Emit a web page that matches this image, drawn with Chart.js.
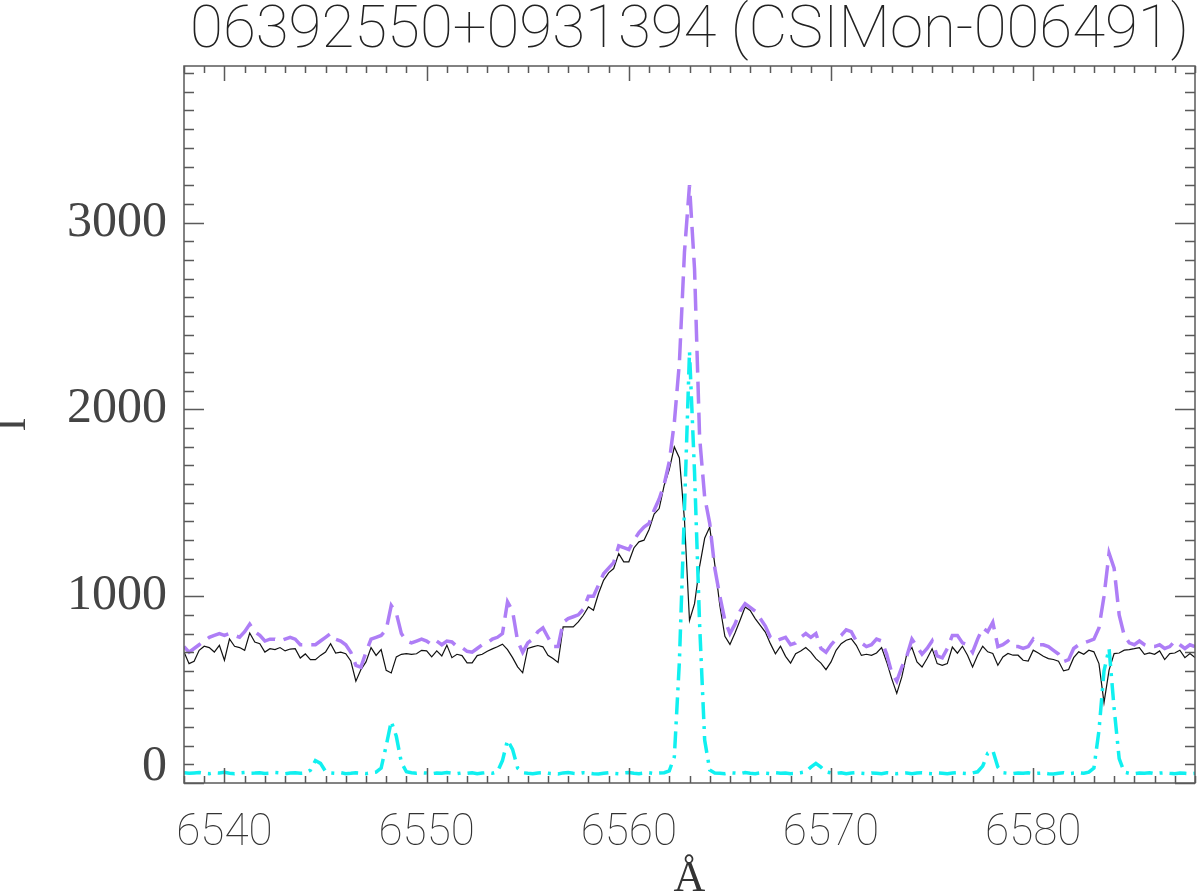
<!DOCTYPE html>
<html>
<head>
<meta charset="utf-8">
<title>06392550+0931394 (CSIMon-006491)</title>
<script src="https://cdn.jsdelivr.net/npm/chart.js@4.4.1/dist/chart.umd.min.js"></script>
<style>
  html, body { margin: 0; padding: 0; background: #fff; }
  #wrap { width: 1200px; height: 895px; }
</style>
</head>
<body>
<div id="wrap"><canvas id="spec" width="1200" height="895"></canvas></div>
<script>
// wavelength grid (Angstrom), 0.25 A sampling from 6538 to 6588
const lambdaStart = 6538;
const lambdaStep = 0.25;

// observed spectrum (black solid)
const flux = [
  701, 639, 652, 710, 732, 725, 701, 737, 657, 771, 732, 725, 710, 803, 755, 746, 701, 719, 714, 725,
  707, 717, 719, 669, 691, 660, 660, 683, 701, 746, 696, 700, 692, 653, 545, 607, 648, 725, 683, 714,
  603, 589, 675, 689, 692, 689, 692, 710, 707, 675, 707, 680, 738, 671, 689, 682, 643, 643, 682, 689,
  705, 718, 729, 743, 714, 671, 622, 590, 720, 729, 736, 729, 684, 666, 645, 836, 836, 836, 862, 898,
  943, 925, 1014, 1085, 1125, 1148, 1228, 1184, 1184, 1258, 1291, 1300, 1357, 1439, 1469, 1594, 1678, 1799, 1740, 1410,
  870, 960, 1160, 1310, 1370, 1170, 950, 785, 742, 803, 871, 942, 924, 880, 844, 808, 746, 692, 732, 678,
  642, 692, 707, 725, 701, 666, 642, 607, 648, 710, 746, 764, 773, 737, 683, 689, 683, 696, 725, 648,
  559, 480, 568, 692, 725, 648, 621, 666, 719, 639, 630, 639, 728, 695, 732, 684, 621, 684, 732, 702,
  693, 630, 675, 693, 684, 684, 657, 653, 711, 696, 678, 666, 661, 652, 600, 607, 671, 702, 689, 711,
  702, 639, 430, 604, 693, 696, 711, 714, 719, 725, 689, 696, 689, 707, 661, 693, 696, 711, 671, 693,
  671
];

// model spectrum (purple dashed)
const model = [
  730, 700, 720, 740, 760, 780, 790, 800, 790, 800, 790, 780, 810, 850, 810, 790, 760, 770, 770, 760,
  770, 780, 770, 740, 740, 740, 740, 760, 780, 800, 770, 760, 740, 700, 630, 620, 700, 770, 780, 790,
  820, 950, 910, 800, 760, 750, 760, 770, 760, 740, 760, 740, 760, 755, 730, 725, 705, 700, 720, 740,
  750, 770, 780, 800, 970, 920, 760, 700, 750, 770, 810, 830, 780, 730, 730, 860, 880, 890, 900, 930,
  1000, 1000, 1060, 1120, 1150, 1180, 1270, 1260, 1250, 1300, 1340, 1370, 1390, 1460, 1520, 1600, 1720, 1930, 2250, 2840,
  3200, 2750, 1850, 1530, 1390, 1150, 1000, 870, 800, 850, 920, 960, 940, 920, 880, 840, 780, 760, 770, 780,
  740, 750, 780, 800, 780, 800, 720, 700, 740, 770, 790, 820, 810, 760, 750, 730, 740, 770, 760, 690,
  590, 545, 620, 680, 770, 730, 690, 720, 760, 680, 670, 720, 790, 790, 750, 740, 700, 770, 830, 810,
  860, 730, 740, 760, 730, 730, 720, 730, 770, 740, 740, 730, 710, 690, 650, 660, 720, 740, 750, 760,
  770, 830, 1000, 1230, 1150, 900, 790, 750, 740, 760, 740, 730, 730, 740, 720, 730, 760, 740, 720, 740,
  730
];

// emission component (cyan dash-dot)
const emission = [
  55, 52, 54, 56, 52, 50, 55, 53, 57, 52, 50, 54, 56, 52, 53, 55, 51, 52, 56, 54,
  50, 53, 55, 52, 54, 68, 120, 105, 62, 54, 52, 55, 50, 52, 55, 53, 50, 54, 58, 80,
  200, 330, 250, 110, 60, 55, 52, 55, 53, 50, 54, 52, 56, 53, 50, 54, 52, 55, 50, 53,
  56, 52, 60, 120, 230, 180, 80, 55, 52, 50, 54, 56, 52, 50, 48, 54, 56, 52, 50, 55,
  53, 50, 48, 52, 55, 52, 50, 54, 56, 52, 50, 53, 55, 51, 53, 55, 65, 140, 650, 1460,
  2310, 1660, 850, 230, 70, 54, 52, 50, 55, 53, 50, 56, 52, 50, 54, 52, 50, 55, 52, 54,
  50, 52, 55, 60, 85, 105, 85, 60, 54, 52, 55, 50, 53, 55, 52, 50, 54, 52, 50, 55,
  53, 50, 52, 54, 50, 53, 55, 52, 50, 54, 52, 50, 53, 55, 52, 50, 54, 60, 90, 160,
  175, 85, 55, 52, 50, 54, 52, 55, 50, 52, 54, 50, 48, 52, 55, 50, 53, 55, 52, 58,
  80, 280, 600, 720, 400, 130, 58, 52, 50, 54, 52, 55, 50, 53, 55, 52, 50, 54, 52, 50,
  52
];

const xTickLabels = [6540, 6550, 6560, 6570, 6580];
const yTickLabels = [0, 1000, 2000, 3000];

const wavelengths = flux.map((_, i) => lambdaStart + i * lambdaStep);
const toPoints = arr => arr.map((v, i) => ({ x: wavelengths[i], y: v }));

const AXIS_COLOR = '#5a5a5a';

// IDL style frame: inward ticks on all four sides
const frameTicks = {
  id: 'frameTicks',
  afterDatasetsDraw(chart) {
    const { ctx, chartArea: a, scales: { x, y } } = chart;
    ctx.save();
    ctx.strokeStyle = AXIS_COLOR;
    ctx.lineWidth = 1.5;
    ctx.strokeRect(a.left, a.top, a.right - a.left, a.bottom - a.top);
    ctx.beginPath();
    for (let w = Math.ceil(x.min); w <= x.max; w += 1) {
      const px = Math.round(x.getPixelForValue(w)) + 0.5;
      const len = w % 10 === 0 ? 15 : 7;
      ctx.moveTo(px, a.bottom); ctx.lineTo(px, a.bottom - len);
      ctx.moveTo(px, a.top); ctx.lineTo(px, a.top + len);
    }
    for (let v = 0; v <= y.max; v += 100) {
      const py = Math.round(y.getPixelForValue(v)) + 0.5;
      const len = v % 1000 === 0 ? 20 : 10;
      ctx.moveTo(a.left, py); ctx.lineTo(a.left + len, py);
      ctx.moveTo(a.right, py); ctx.lineTo(a.right - len, py);
    }
    ctx.stroke();
    ctx.restore();
  }
};

new Chart(document.getElementById('spec'), {
  type: 'line',
  data: {
    datasets: [
      {
        label: 'observed',
        data: toPoints(flux),
        borderColor: '#111111',
        borderWidth: 1.2,
        pointRadius: 0,
        tension: 0,
        order: 3
      },
      {
        label: 'model',
        data: toPoints(model),
        borderColor: '#ae7ef6',
        borderWidth: 3.5,
        borderDash: [22, 9],
        pointRadius: 0,
        tension: 0,
        order: 2
      },
      {
        label: 'emission',
        data: toPoints(emission),
        borderColor: '#10f0f0',
        borderWidth: 3.5,
        borderDash: [17, 7, 3, 7],
        pointRadius: 0,
        tension: 0,
        order: 1
      }
    ]
  },
  options: {
    responsive: false,
    animation: false,
    events: [],
    layout: { padding: { left: 0, right: 5, top: 0, bottom: 0 } },
    plugins: {
      legend: { display: false },
      tooltip: { enabled: false },
      title: {
        display: true,
        fullSize: false,
        text: '06392550+0931394 (CSIMon-006491)',
        color: '#222',
        font: { family: 'Roboto, "DejaVu Sans", sans-serif', size: 60, weight: 100, lineHeight: 1 },
        padding: { top: 2, bottom: 4 }
      }
    },
    scales: {
      x: {
        type: 'linear',
        min: 6538,
        max: 6588,
        grid: { display: false, drawTicks: false },
        border: { display: false },
        afterFit(scale) { scale.height = 112; },
        afterBuildTicks(scale) { scale.ticks = xTickLabels.map(v => ({ value: v })); },
        ticks: {
          color: '#333',
          padding: 25,
          maxRotation: 0,
          font: { family: 'Roboto, "DejaVu Sans", sans-serif', size: 44, weight: 100 },
          callback: v => String(v)
        },
        title: {
          display: true,
          text: 'Å',
          color: '#333',
          font: { family: '"Liberation Serif", serif', size: 44, lineHeight: 0.7 },
          padding: { top: 0, bottom: 0 }
        }
      },
      y: {
        type: 'linear',
        min: 0,
        max: 3838,
        grid: { display: false, drawTicks: false },
        border: { display: false },
        afterFit(scale) { scale.width = 184; },
        afterBuildTicks(scale) { scale.ticks = yTickLabels.map(v => ({ value: v })); },
        ticks: {
          color: '#444',
          padding: 17,
          font: { family: '"Liberation Serif", serif', size: 50, lineHeight: 0.64 },
          // the zero label sits a little above its tick, as in the original plot
          callback: v => (v === 0 ? ['0', ''] : String(v))
        },
        title: {
          display: true,
          text: 'I',
          color: '#444',
          font: { family: '"Liberation Serif", serif', size: 42, lineHeight: 0.667 },
          padding: { top: 0, bottom: 0 }
        }
      }
    }
  },
  plugins: [frameTicks]
});
</script>
</body>
</html>
